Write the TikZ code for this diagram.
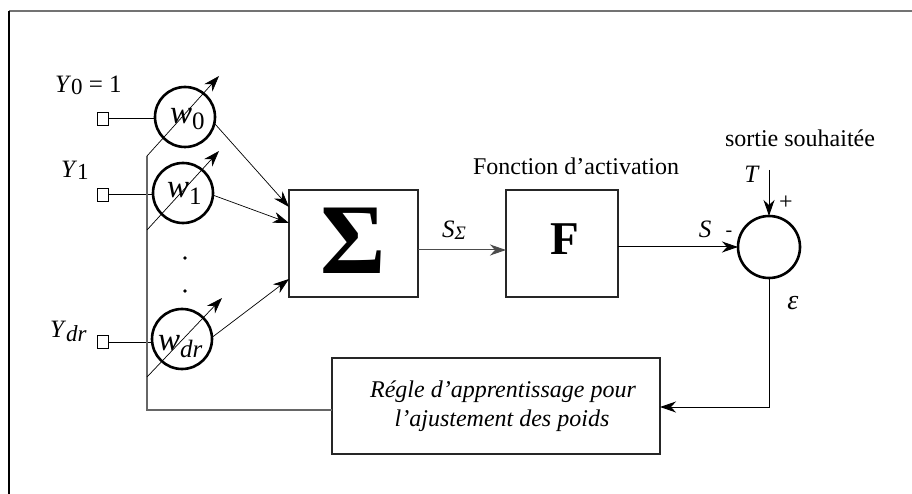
\documentclass[tikz,border=0pt]{standalone}
\usepackage{fontspec}
\setmainfont{Liberation Serif}
\usetikzlibrary{arrows.meta,calc}
\newcommand{\fs}[1]{\fontsize{#1}{#1}\selectfont}
\newcommand{\lowsub}[3]{\raisebox{-#1}{\fs{#2}#3}}
\begin{document}
\begin{tikzpicture}[x=1pt,y=-1pt,
  every node/.style={inner sep=0pt, outer sep=0pt},
  arr/.style={-{Stealth[length=16pt,width=11pt,inset=5pt]}, line width=1pt},
  darr/.style={-{Stealth[length=16pt,width=11pt,inset=5pt]}, line width=0.7pt},
  wcirc/.style={circle, draw, line width=2.6pt, minimum size=60pt},
  sq/.style={rectangle, draw, line width=1.1pt, minimum width=11pt, minimum height=13pt},
  blk/.style={rectangle, draw, line width=1.5pt, draw=black!85},
  gpath/.style={draw=black!60, line width=1.6pt}
]
\useasboundingbox (0,0) rectangle (912,494);
% frame
\draw[black!55, line width=1.8pt] (9,11) -- (912,11);
\draw[black, line width=1.6pt] (9,11) -- (9,494);

% input squares
\node[sq] (s0) at (103,119) {};
\node[sq] (s1) at (103,195) {};
\node[sq] (sd) at (103,342) {};

% weight circles
\node[wcirc] (w0) at (185,117) {};
\node[wcirc] (w1) at (183,193) {};
\node[wcirc] (wd) at (182,339) {};

% blocks
\node[blk, minimum width=129pt, minimum height=107pt] (sig) at (353.5,243.5) {};
\node[blk, minimum width=112pt, minimum height=107pt] (F) at (562,243.5) {};
\node[wcirc, minimum size=62pt] (sum) at (769,247) {};
\node[blk, minimum width=328pt, minimum height=96pt] (reg) at (496,406) {};

% block contents
\node (sigt) at (353,241) {\fs{100}\bfseries Σ};
\node (Ft) at (565,239) {\fs{47}\bfseries F};
\node[anchor=base] (reg1) at (503,397) {\fs{24}\itshape Régle d’apprentissage pour};
\node[anchor=base] (reg2) at (502,426) {\fs{24}\itshape l’ajustement des poids};

% weight labels
\node[anchor=base west] (w0t) at (170,124) {\fs{33}\textit{w}\lowsub{6pt}{25}{0}};
\node[anchor=base west] (w1t) at (167,198) {\fs{33}\textit{w}\lowsub{7pt}{25}{1}};
\node[anchor=base west] (wdt) at (158,350) {\fs{33}\textit{w}\lowsub{7pt}{25}{\textit{dr}}};

% input labels
\node[anchor=base west] (y0t) at (55,93) {\fs{25}\textit{Y}\lowsub{2pt}{23}{0} = 1};
\node[anchor=base west] (y1t) at (61,178) {\fs{25}\textit{Y}\lowsub{2pt}{23}{1}};
\node[anchor=base west] (ydt) at (50,337) {\fs{25}\textit{Y}\lowsub{4pt}{23}{\textit{dr}}};

% other labels
\node[anchor=base] (fa) at (576,175) {\fs{24}Fonction d’activation};
\node[anchor=base] (ss) at (800,147) {\fs{24}sortie souhaitée};
\node[anchor=base] (Tt) at (752,183) {\fs{25}\textit{T}};
\node (plus) at (786,203) {\fs{24}+};
\node[anchor=base] (St) at (705,237) {\fs{25}\textit{S}};
\node (minus) at (729,234) {\fs{20}-};
\node[anchor=base west] (sst) at (442,237) {\fs{25}\textit{S}\lowsub{2pt}{19}{\textit{Σ}}};
\node[anchor=base] (eps) at (793,309) {\fs{28}\textit{ε}};

% dots
\fill (185,258) circle (1.8pt);
\fill (185,291) circle (1.8pt);

% input lines
\draw[line width=1pt] (s0.east) -- (s0.east -| w0.west);
\draw[line width=1pt] (s1.east) -- (s1.east -| w1.west);
\draw[line width=1pt] (sd.east) -- (sd.east -| wd.west);

% circles to sigma
\draw[darr] (w0.-12) -- (sig.west |- 0,207);
\draw[darr] (w1.-4) -- (sig.west |- 0,223);
\draw[darr] (wd.3) -- (sig.west |- 0,279);

% learning path
\coordinate (d0) at (147,156);
\coordinate (d1) at (147,230);
\coordinate (dd) at (147,377);
\coordinate (cl) at (147,410);
\coordinate (t0) at (219,76);
\coordinate (t1) at (219,151);
\coordinate (td) at (222,298);
\draw[gpath] (d0) -- (cl) -- (cl -| reg.west);
\draw[darr] (d0) -- (t0);
\draw[darr] (d1) -- (t1);
\draw[darr] (dd) -- (td);

% main chain
\draw[arr, draw=black!70] (sig.east |- 0,250) -- (F.west |- 0,250);
\draw[arr] (F.east |- sum.west) -- (sum.west);
\coordinate (tt) at (769,170);
\draw[arr] (tt) -- (sum.north);
\coordinate (fb) at (769,407);
\draw[arr] (sum.south) -- (fb) -- (fb -| reg.east);
\end{tikzpicture}
\end{document}
